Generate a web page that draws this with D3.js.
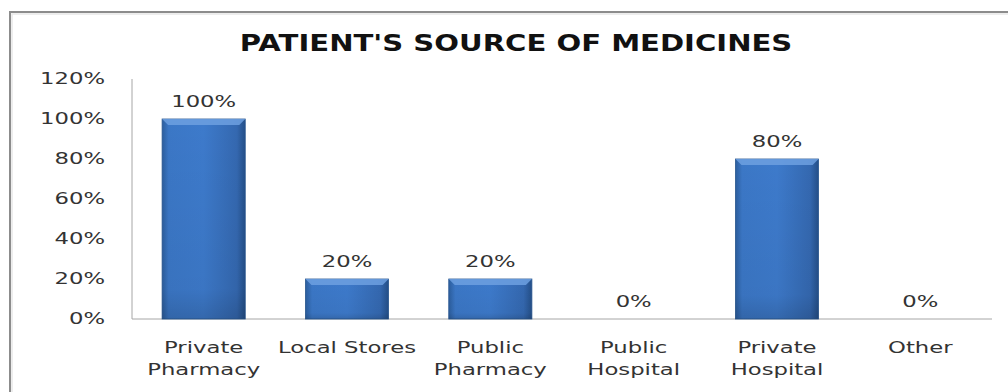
<!DOCTYPE html>
<html>
<head>
<meta charset="utf-8">
<script src="https://cdn.jsdelivr.net/npm/d3@7"></script>
<style>
  html, body { margin: 0; padding: 0; background: #fff; }
  svg { display: block; }
  text { font-family: "DejaVu Sans", sans-serif; fill: #333; }
</style>
</head>
<body>
<svg id="chart" width="1008" height="392"></svg>
<script>
// chart data
var title = "PATIENT'S SOURCE OF MEDICINES";
var categories = [["Private", "Pharmacy"], ["Local Stores"], ["Public", "Pharmacy"], ["Public", "Hospital"], ["Private", "Hospital"], ["Other"]];
var values = [1.0, 0.2, 0.2, 0, 0.8, 0];
var yTicks = [0, 0.2, 0.4, 0.6, 0.8, 1.0, 1.2];

var W = 1008, H = 392;
var plot = { left: 132, right: 992, top: 79, bottom: 319 };

var svg = d3.select("#chart");

// gradient for the bevelled bars
var defs = svg.append("defs");
var grad = defs.append("linearGradient").attr("id", "barGrad")
    .attr("x1", 0).attr("x2", 1).attr("y1", 0).attr("y2", 0);
grad.append("stop").attr("offset", "0%").attr("stop-color", "#2c5e9e");
grad.append("stop").attr("offset", "8%").attr("stop-color", "#3b77c6");
grad.append("stop").attr("offset", "50%").attr("stop-color", "#3d7acb");
grad.append("stop").attr("offset", "90%").attr("stop-color", "#3468b0");
grad.append("stop").attr("offset", "100%").attr("stop-color", "#244f88");

var vgrad = defs.append("linearGradient").attr("id", "barShade")
    .attr("x1", 0).attr("x2", 0).attr("y1", 0).attr("y2", 1);
vgrad.append("stop").attr("offset", "0%").attr("stop-color", "#000").attr("stop-opacity", 0);
vgrad.append("stop").attr("offset", "85%").attr("stop-color", "#000").attr("stop-opacity", 0.04);
vgrad.append("stop").attr("offset", "100%").attr("stop-color", "#000").attr("stop-opacity", 0.15);

// frame (top + left edges visible)
svg.append("path")
    .attr("d", "M10," + H + " L10,12 L" + W + ",12")
    .attr("fill", "none")
    .attr("stroke", "#8c8c8c")
    .attr("stroke-width", 2);
svg.append("path")
    .attr("d", "M12," + H + " L12,14 L" + W + ",14")
    .attr("fill", "none")
    .attr("stroke", "#e8e8e8")
    .attr("stroke-width", 1.5);

var x = d3.scaleBand()
    .domain(d3.range(categories.length))
    .range([plot.left, plot.right])
    .paddingInner(0.42)
    .paddingOuter(0.21);

var y = d3.scaleLinear()
    .domain([0, 1.2])
    .range([plot.bottom, plot.top]);

var fmt = d3.format(".0%");

// text is horizontally stretched in the reference
function stretch(sel, sx) {
    sel.each(function () {
        var t = d3.select(this);
        var tx = +t.attr("data-x"), ty = +t.attr("data-y");
        t.attr("transform", "translate(" + tx + "," + ty + ") scale(" + sx + ",1)");
    });
}

var probe = svg.append("text").style("font-size", "15px").text("Pharmacy");
var sx = 113 / probe.node().getComputedTextLength();
probe.remove();

// title
var titleText = svg.append("text")
    .attr("text-anchor", "middle")
    .attr("data-x", 516).attr("data-y", 51)
    .style("font-size", "23px")
    .style("font-weight", "bold")
    .style("fill", "#111")
    .text(title);
var tsx = 553 / titleText.node().getComputedTextLength();
stretch(titleText, tsx);

// axes lines
svg.append("line")
    .attr("x1", plot.left).attr("x2", plot.left)
    .attr("y1", y(1.2)).attr("y2", y(0))
    .attr("stroke", "#a6a6a6").attr("stroke-width", 1);
svg.append("line")
    .attr("x1", plot.left).attr("x2", plot.right)
    .attr("y1", y(0)).attr("y2", y(0))
    .attr("stroke", "#a6a6a6").attr("stroke-width", 1);

// y tick labels
svg.append("g").selectAll("text")
    .data(yTicks)
    .enter().append("text")
    .attr("text-anchor", "end")
    .attr("dy", "0.35em")
    .attr("data-x", 105)
    .attr("data-y", function (d) { return y(d); })
    .style("font-size", "15px")
    .text(function (d) { return fmt(d); })
    .call(stretch, sx);

// bars
var barData = values.map(function (v, i) { return { v: v, i: i }; });

var bars = svg.append("g").selectAll("g")
    .data(barData)
    .enter().append("g");

var filled = bars.filter(function (d) { return d.v > 0; });

filled.append("rect")
    .attr("x", function (d) { return x(d.i); })
    .attr("y", function (d) { return y(d.v); })
    .attr("width", x.bandwidth())
    .attr("height", function (d) { return y(0) - y(d.v); })
    .attr("fill", "url(#barGrad)")
    .attr("stroke", "#2a5790")
    .attr("stroke-width", 0.8);

filled.append("rect")
    .attr("x", function (d) { return x(d.i); })
    .attr("y", function (d) { return y(d.v); })
    .attr("width", x.bandwidth())
    .attr("height", function (d) { return y(0) - y(d.v); })
    .attr("fill", "url(#barShade)");

// top bevel highlight
filled.append("path")
    .attr("d", function (d) {
        var x0 = x(d.i), x1 = x(d.i) + x.bandwidth(), t = y(d.v), b = 6;
        return "M" + x0 + "," + t + " L" + x1 + "," + t + " L" + (x1 - b) + "," + (t + b) +
            " L" + (x0 + b) + "," + (t + b) + " Z";
    })
    .attr("fill", "#6da0e0")
    .attr("opacity", 0.85);

// value labels
bars.append("text")
    .attr("text-anchor", "middle")
    .attr("data-x", function (d) { return x(d.i) + x.bandwidth() / 2; })
    .attr("data-y", function (d) { return y(d.v) - 12; })
    .style("font-size", "15px")
    .text(function (d) { return fmt(d.v); })
    .call(stretch, sx);

// category labels
var cat = svg.append("g").selectAll("g")
    .data(categories)
    .enter().append("g");

cat.selectAll("text")
    .data(function (d, i) { return d.map(function (s, j) { return { s: s, i: i, j: j }; }); })
    .enter().append("text")
    .attr("text-anchor", "middle")
    .attr("data-x", function (d) { return x(d.i) + x.bandwidth() / 2; })
    .attr("data-y", function (d) { return 353 + d.j * 22; })
    .style("font-size", "15px")
    .text(function (d) { return d.s; })
    .call(stretch, sx);
</script>
</body>
</html>
